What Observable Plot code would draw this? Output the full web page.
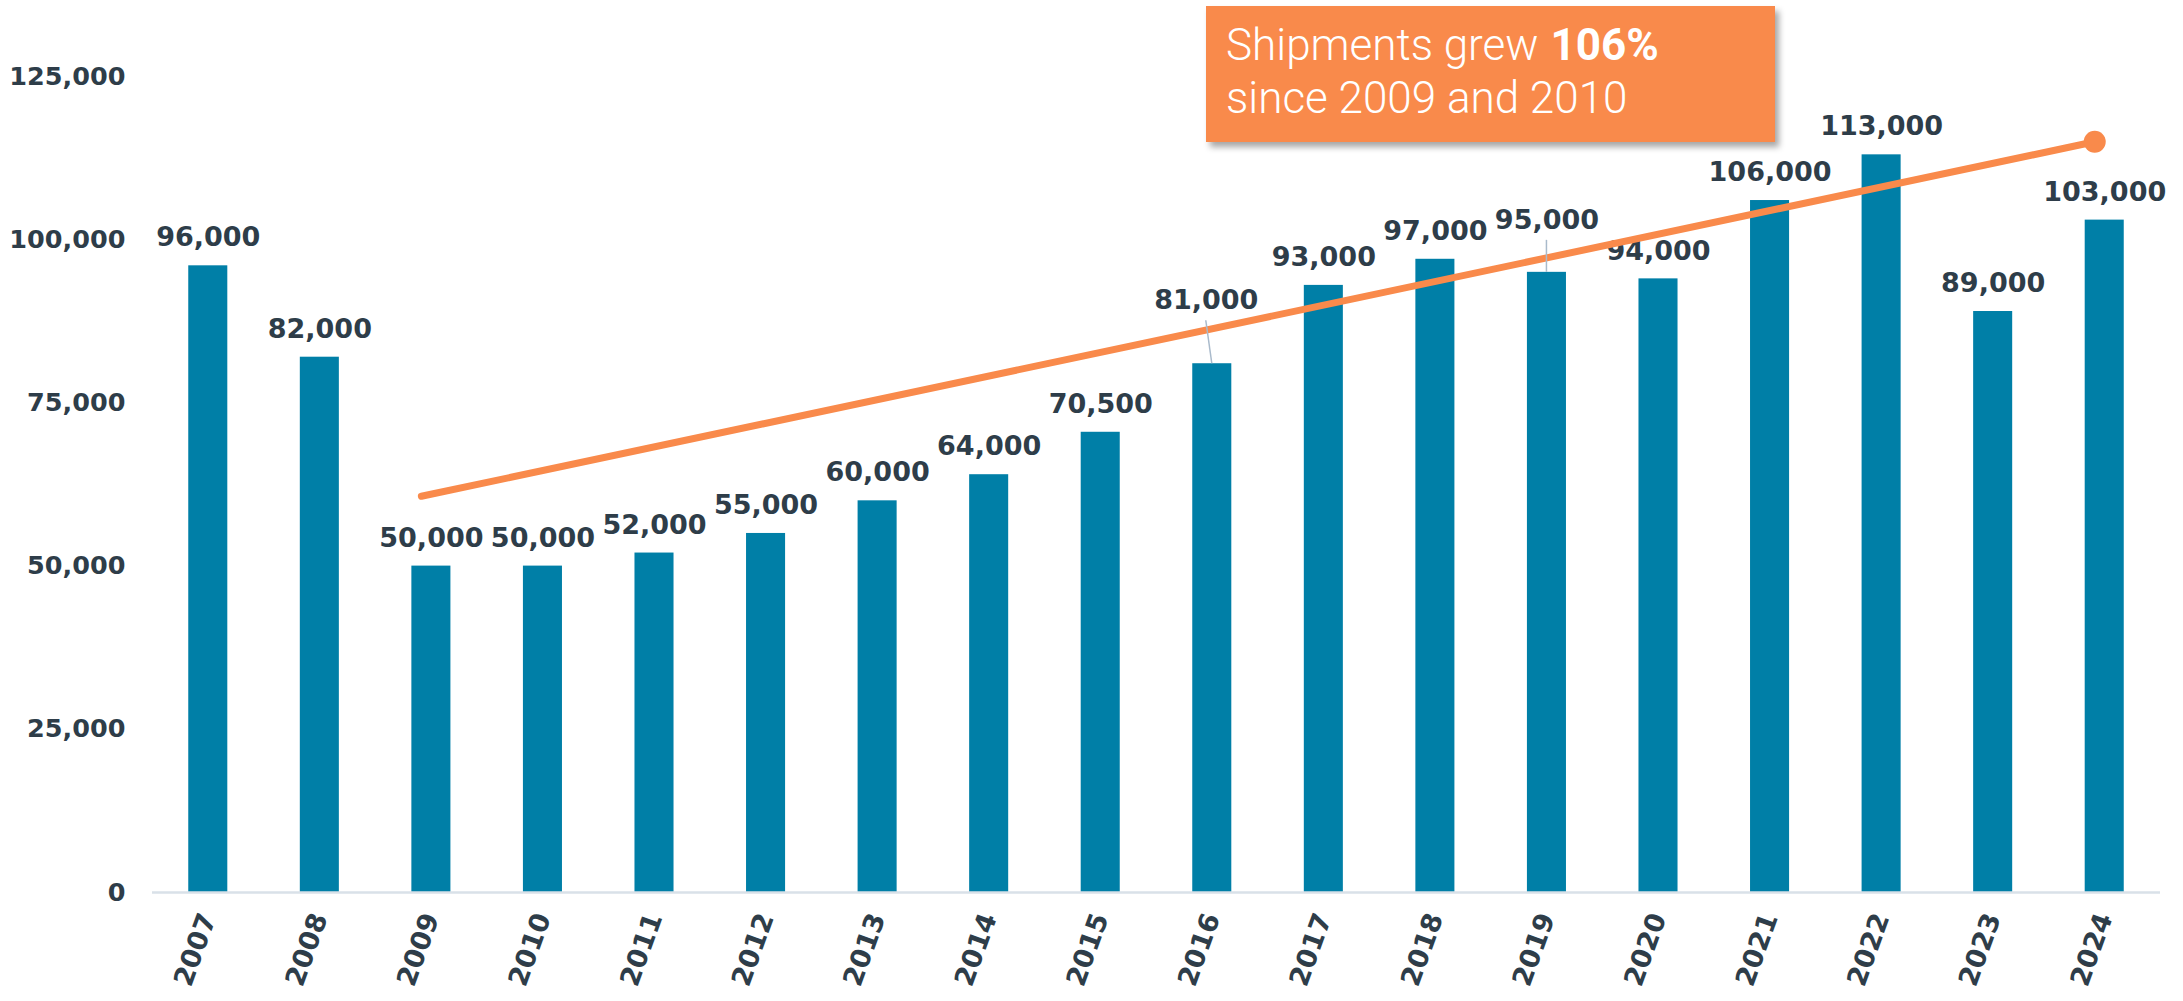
<!DOCTYPE html>
<html>
<head>
<meta charset="utf-8">
<script src="https://cdn.jsdelivr.net/npm/d3@7"></script>
<script src="https://cdn.jsdelivr.net/npm/@observablehq/plot@0.6"></script>
<style>
  html, body { margin: 0; padding: 0; background: #ffffff; }
  #wrap { position: relative; width: 2183px; height: 1001px; }
</style>
</head>
<body>
<div id="wrap">
  <div id="chart"></div>
</div>
<script>
// ---- data ----
const years = ["2007","2008","2009","2010","2011","2012","2013","2014","2015","2016","2017","2018","2019","2020","2021","2022","2023","2024"];
const shipments = [96000, 82000, 50000, 50000, 52000, 55000, 60000, 64000, 70500, 81000, 93000, 97000, 95000, 94000, 106000, 113000, 89000, 103000];
const yTicks = [0, 25000, 50000, 75000, 100000, 125000];
const trendYears = ["2009", "2024"];
const trendValues = [60700, 115000];
const noteLine1 = ["Shipments grew", "106%"];
const noteLine2 = "since 2009 and 2010";

const data = years.map((year, i) => ({year, value: shipments[i]}));
const trend = trendYears.map((year, i) => ({year, value: trendValues[i]}));

// label nudges (pixels) for labels that were moved off their default spot
const nudges = {"2016": {dx: -6, dy: -35}, "2019": {dx: 0, dy: -24}};

const textColor = "#2E3D49";
const barColor = "#007FA7";
const orange = "#F98A4B";
const fmt = d3.format(",");
const labelFont = {fontSize: 27, fontWeight: "bold", fill: textColor};

const normal = data.filter(d => !nudges[d.year]);
const nudgeMarks = Object.entries(nudges).map(([yr, n]) =>
  Plot.text(data.filter(d => d.year === yr), {
    x: "year", y: "value", text: d => fmt(d.value), dy: -28 + n.dy, dx: n.dx, ...labelFont
  })
);

const chart = Plot.plot({
  width: 2183,
  height: 1001,
  marginTop: 76,
  marginBottom: 109,
  marginLeft: 152,
  marginRight: 23,
  style: {fontFamily: "'DejaVu Sans', sans-serif", background: "#ffffff"},
  x: {type: "band", domain: years, paddingInner: 0.65, paddingOuter: 0.325, round: false, label: null},
  y: {domain: [0, 125000], label: null},
  marks: [
    Plot.axisY({ticks: yTicks, tickFormat: fmt, tickSize: 0, tickPadding: 27, fontSize: 25.5, fontWeight: "bold", fill: textColor, label: null}),
    Plot.axisX({tickSize: 0, tickPadding: 22, tickRotate: -70, fontSize: 27, fontWeight: "bold", fill: textColor, label: null}),
    Plot.barY(data, {x: "year", y: "value", fill: barColor}),
    Plot.ruleY([0], {stroke: "#D9E1E8", strokeWidth: 2.5}),
    Plot.text(normal, {x: "year", y: "value", text: d => fmt(d.value), dy: -28, ...labelFont}),
    ...nudgeMarks,
    Plot.line(trend, {x: "year", y: "value", stroke: orange, strokeWidth: 7, dx: -10}),
    Plot.dot(trend.slice(-1), {x: "year", y: "value", r: 11, fill: orange, stroke: "none", dx: -10})
  ]
});
document.getElementById("chart").appendChild(chart);

// leader lines for nudged labels, placed through the chart's own scales
const sx = chart.scale("x"), sy = chart.scale("y");
const svg = d3.select(chart);
Object.entries(nudges).forEach(([yr, n]) => {
  const d = data.find(e => e.year === yr);
  const cx = sx.apply(yr) + sx.bandwidth / 2;
  const top = sy.apply(d.value);
  svg.append("line")
    .attr("x1", cx).attr("y1", top)
    .attr("x2", cx + n.dx).attr("y2", top - 28 + n.dy + 20)
    .attr("stroke", "#A9BACB").attr("stroke-width", 1.5);
});

// callout box
const note = svg.append("g").attr("class", "note")
  .attr("text-anchor", "start")
  .style("font-family", "Roboto, 'Open Sans', sans-serif")
  .style("font-size", "44px");
note.append("rect")
  .attr("x", 1206).attr("y", 6).attr("width", 569).attr("height", 136)
  .attr("fill", orange)
  .style("filter", "drop-shadow(4px 5px 3px rgba(0,0,0,0.35))");
const a = note.append("text")
  .attr("x", 1226).attr("y", 60)
  .attr("fill", "#ffffff")
  .style("font-weight", 300)
  .text(noteLine1[0]);
const w = a.node().getComputedTextLength();
note.append("text")
  .attr("x", 1226 + w + 12).attr("y", 60)
  .attr("fill", "#ffffff")
  .style("font-weight", 700)
  .text(noteLine1[1]);
note.append("text")
  .attr("x", 1226).attr("y", 113)
  .attr("fill", "#ffffff")
  .style("font-weight", 300)
  .text(noteLine2);
</script>
</body>
</html>
